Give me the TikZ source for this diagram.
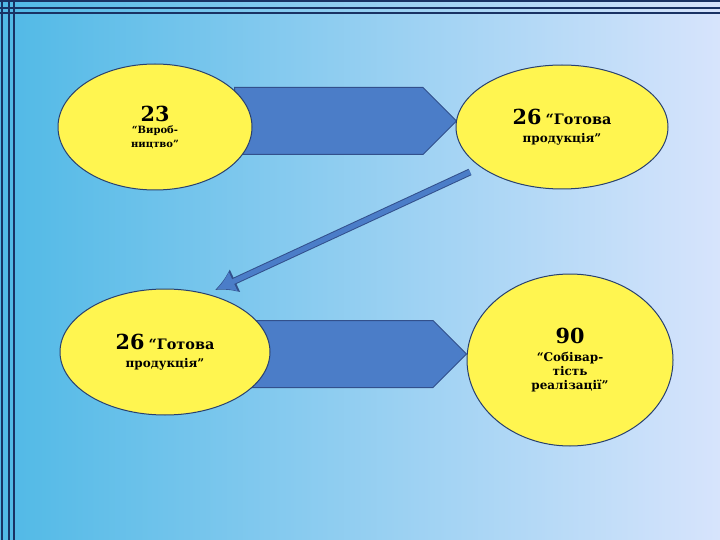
\documentclass[tikz,border=0pt]{standalone}
\usepackage{fontspec}
\setmainfont{DejaVu Serif}
\usetikzlibrary{shapes.arrows,shapes.geometric,arrows.meta}
\definecolor{bgl}{RGB}{80,185,230}
\definecolor{bgr}{RGB}{215,228,252}
\definecolor{frame}{RGB}{25,50,100}
\definecolor{ell}{RGB}{255,245,80}
\definecolor{arr}{RGB}{75,125,200}
\definecolor{arrd}{RGB}{50,80,140}
\tikzset{
 oval/.style={ellipse,draw=arrd!80!black,line width=1pt,fill=ell,align=center,font=\bfseries\large,inner sep=0pt},
 barrow/.style={single arrow,draw=arrd,line width=1pt,fill=arr,minimum width=67pt,single arrow head extend=0pt,inner sep=0pt,anchor=west}
}
\begin{document}
\begin{tikzpicture}[x=1pt,y=-1pt]
\useasboundingbox (0,0) rectangle (720,540);
\shade[left color=bgl,right color=bgr] (0,0) rectangle (720,540);
\foreach \v in {2,9,14}{\draw[frame,line width=1.2pt] (\v,0)--(\v,540); \draw[frame,line width=1.2pt] (0,\v-1)--(720,\v-1);}
\node[barrow,minimum height=222pt] (r1) at (234,121) {};
\node[barrow,minimum height=226pt] (r2) at (240,354) {};
\node[oval,minimum width=194pt,minimum height=126pt] (a) at (155,127) {\huge 23\\[-2pt]\normalsize\bfseries“Вироб-\\\normalsize\bfseries ництво”};
\node[oval,minimum width=212pt,minimum height=124pt] (b) at (562,127) {{\huge 26} \Large “Готова\\[4pt]\normalsize\bfseries\large продукція”};
\node[oval,minimum width=210pt,minimum height=126pt] (c) at (165,352) {{\huge 26} \Large “Готова\\[4pt]\normalsize\bfseries\large продукція”};
\node[oval,minimum width=206pt,minimum height=172pt] (d) at (570,360) {\huge 90\\[4pt]\normalsize\bfseries\large “Собівар-\\\normalsize\bfseries\large тість\\\normalsize\bfseries\large реалізації”};
\coordinate (p) at (470,172);
\coordinate (q) at (215,290);
\draw[arrd,line width=7pt,-{Latex[length=22pt,width=26pt]}] (p) -- (q);
\draw[arr,line width=5pt,shorten >=2pt,-{Latex[length=18pt,width=22pt]}] (p) -- (q);
\end{tikzpicture}
\end{document}
